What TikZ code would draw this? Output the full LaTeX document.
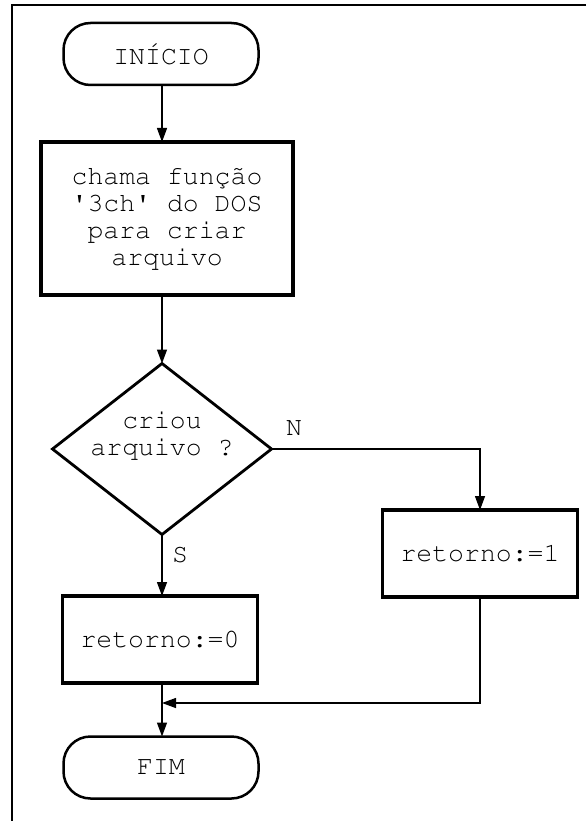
\documentclass[tikz,border=0pt]{standalone}
\usepackage[T1,TU]{fontenc}
\usetikzlibrary{shapes.geometric,arrows.meta}
% Courier-style typewriter face for all flowchart text
\newcommand{\flowfont}{\fontencoding{T1}\fontfamily{pcr}\fontsize{26.5}{27}\selectfont}

\begin{document}
\begin{tikzpicture}[x=1pt,y=-1pt,
  every node/.style={font=\flowfont, inner sep=0pt, outer sep=0pt},
  term/.style={draw, rectangle, rounded corners=27pt, minimum width=195pt,
               minimum height=62pt, line width=2.5pt},
  proc/.style={draw, rectangle, line width=3.2pt, minimum width=195pt,
               minimum height=87pt},
  decide/.style={draw, diamond, line width=2.8pt, minimum width=219pt,
                 minimum height=171pt},
  conn/.style={line width=1.3pt},
  arr/.style={conn, -{Triangle[width=10pt,length=14pt]}}]
\useasboundingbox (0,0) rectangle (586,821);

% page frame (top and left edges)
\draw[line width=2.6pt] (586,5) -- (12,5) -- (12,821);

% shapes
\node[term] (inicio) at (161,54) {INÍCIO};
\node[proc, minimum width=252pt, minimum height=153pt, align=center] (chama)
  at (167,218.5) {chama função\\\textquotesingle3ch\textquotesingle{} do DOS\\para criar\\arquivo};
\node[decide] (criou) at (162,449) {};
\node[align=center] (criou-txt) at (162,436) {criou\\arquivo ?};
\node[proc] (ret1) at (480,553.5) {retorno:=1};
\node[proc] (ret0) at (160,639.5) {retorno:=0};
\node[term] (fim) at (161,767.5) {FIM};
\coordinate (join) at (162,703);

% branch labels
\node (lblN) at (294,428) {N};
\node (lblS) at (180,555) {S};

% connectors
\draw[arr] (inicio.south -| join) -- (join |- chama.north);
\draw[arr] (criou.north |- chama.south) -- (criou.north);
\draw[arr] (criou.east) -| (ret1.north);
\draw[arr] (criou.south) -- (criou.south |- ret0.north);
\draw[arr] (ret0.south -| join) -- (join |- fim.north);
\draw[arr] (ret1.south) |- (join);
\end{tikzpicture}
\end{document}
